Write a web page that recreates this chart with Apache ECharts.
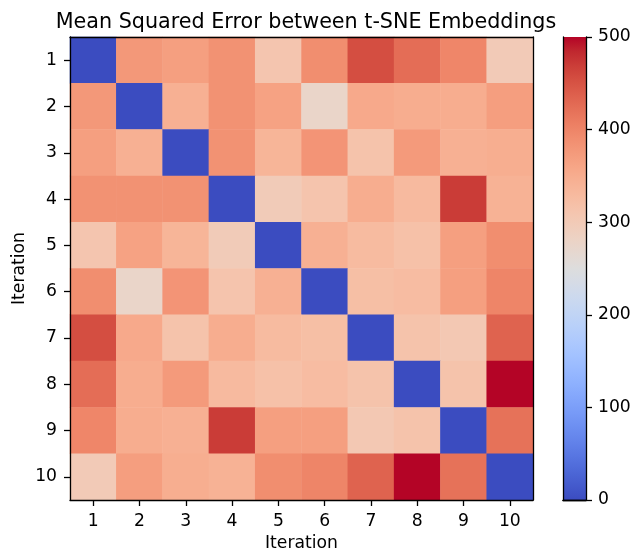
<!DOCTYPE html>
<html>
<head>
<meta charset="utf-8">
<script src="https://cdn.jsdelivr.net/npm/echarts@6/dist/echarts.min.js"></script>
<style>
  html, body { margin: 0; padding: 0; background: #fff; }
  #chart { width: 631px; height: 552px; }
</style>
</head>
<body>
<div id="chart"></div>
<script>
// Iteration labels (rows and columns of the MSE matrix)
const iterations = ['1', '2', '3', '4', '5', '6', '7', '8', '9', '10'];

// Pairwise mean squared error between embeddings, one array per iteration row
const row1  = [0,   378, 368, 385, 310, 390, 455, 425, 398, 300];
const row2  = [378, 0,   345, 385, 365, 276, 355, 350, 350, 370];
const row3  = [368, 345, 0,   385, 338, 382, 315, 375, 345, 348];
const row4  = [385, 385, 385, 0,   298, 312, 350, 330, 470, 342];
const row5  = [310, 365, 338, 298, 0,   345, 328, 318, 368, 390];
const row6  = [390, 276, 382, 312, 345, 0,   322, 326, 368, 400];
const row7  = [455, 355, 315, 350, 328, 322, 0,   315, 305, 435];
const row8  = [425, 350, 375, 330, 318, 326, 315, 0,   315, 500];
const row9  = [398, 350, 345, 470, 368, 368, 305, 315, 0,   420];
const row10 = [300, 370, 348, 342, 390, 400, 435, 500, 420, 0];
const matrix = [row1, row2, row3, row4, row5, row6, row7, row8, row9, row10];

// Colour scale range and colorbar ticks
const vmin = 0;
const vmax = 500;
const colorbarTicks = [0, 100, 200, 300, 400, 500];

// Diverging blue-white-red ramp (coolwarm)
const coolwarm = [
  '#3b4cc0', '#445acc', '#4d68d7', '#5775e1', '#6282ea', '#6c8ef1', '#779af7', '#82a5fb',
  '#8db0fe', '#98b9ff', '#a3c2ff', '#aec9fd', '#b8d0f9', '#c2d5f4', '#ccd9ee', '#d5dbe6',
  '#dddddd', '#e5d8d1', '#ecd3c5', '#f1ccb9', '#f5c4ad', '#f7bba0', '#f7b194', '#f7a687',
  '#f49a7b', '#f18d6f', '#ec7f63', '#e57058', '#de604d', '#d55042', '#cb3e38', '#c0282f',
  '#b40426'
];

const heatData = [];
matrix.forEach((row, r) => {
  row.forEach((v, c) => heatData.push([c, r, v]));
});

const font = 'DejaVu Sans';
const tickFont = 17.2;
const black = '#000';

const gradientStops = coolwarm.map((col, i) => ({ offset: i / (coolwarm.length - 1), color: col }));

const chart = echarts.init(document.getElementById('chart'), null, { renderer: 'canvas' });

const frameAxis = {
  axisLine: { show: true, lineStyle: { color: black, width: 1.3 } },
  axisTick: { show: false },
  axisLabel: { show: false },
  splitLine: { show: false },
  z: 10
};

chart.setOption({
  backgroundColor: '#fff',
  animation: false,
  title: {
    text: 'Mean Squared Error between t-SNE Embeddings',
    left: 301, top: 7, textAlign: 'center',
    textStyle: { fontFamily: font, fontSize: 20.7, fontWeight: 'normal', color: black }
  },
  grid: [
    { left: 70, top: 37, width: 463, height: 463, show: false, outerBoundsMode: 'none', containLabel: false },
    { left: 563, top: 37, width: 23, height: 463, show: false, outerBoundsMode: 'none', containLabel: false }
  ],
  xAxis: [
    {
      type: 'category', gridIndex: 0, data: iterations, position: 'bottom',
      name: 'Iteration', nameLocation: 'middle', nameGap: 35, nameMoveOverlap: false,
      nameTextStyle: { fontFamily: font, fontSize: tickFont, color: black },
      axisLine: { show: true, lineStyle: { color: black, width: 1.3 } },
      axisTick: { show: true, alignWithLabel: true, length: 6, lineStyle: { color: black, width: 1.3 } },
      axisLabel: { fontFamily: font, fontSize: tickFont, color: black, margin: 13 },
      splitLine: { show: false },
      z: 10
    },
    Object.assign({ type: 'category', gridIndex: 0, data: iterations, position: 'top' }, frameAxis),
    {
      type: 'category', gridIndex: 1, data: ['bar'],
      axisLine: { show: true, lineStyle: { color: black, width: 1.3 } },
      axisTick: { show: false }, axisLabel: { show: false }, z: 10
    },
    Object.assign({ type: 'category', gridIndex: 1, data: ['bar'], position: 'top' }, frameAxis)
  ],
  yAxis: [
    {
      type: 'category', gridIndex: 0, data: iterations, inverse: true, position: 'left',
      name: 'Iteration', nameLocation: 'middle', nameGap: 42, nameRotate: 90, nameMoveOverlap: false,
      nameTextStyle: { fontFamily: font, fontSize: tickFont, color: black },
      axisLine: { show: true, lineStyle: { color: black, width: 1.3 } },
      axisTick: { show: true, alignWithLabel: true, length: 6, lineStyle: { color: black, width: 1.3 } },
      axisLabel: { fontFamily: font, fontSize: tickFont, color: black, margin: 13 },
      splitLine: { show: false },
      z: 10
    },
    Object.assign({ type: 'category', gridIndex: 0, data: iterations, inverse: true, position: 'right' }, frameAxis),
    {
      type: 'value', gridIndex: 1, min: vmin, max: vmax, interval: 100, position: 'right',
      axisLine: { show: true, lineStyle: { color: black, width: 1.3 } },
      axisTick: { show: true, length: 6, lineStyle: { color: black, width: 1.3 } },
      axisLabel: {
        fontFamily: font, fontSize: tickFont, color: black, margin: 12,
        customValues: colorbarTicks
      },
      splitLine: { show: false },
      z: 10
    },
    Object.assign({ type: 'value', gridIndex: 1, min: vmin, max: vmax, position: 'left' }, frameAxis)
  ],
  visualMap: {
    show: false, type: 'continuous', min: vmin, max: vmax, dimension: 2,
    seriesIndex: 0, inRange: { color: coolwarm }
  },
  series: [
    {
      type: 'heatmap', xAxisIndex: 0, yAxisIndex: 0, data: heatData,
      itemStyle: { borderWidth: 0 }, emphasis: { disabled: true }
    },
    {
      type: 'bar', xAxisIndex: 2, yAxisIndex: 2, data: [vmax], barWidth: '100%',
      silent: true,
      itemStyle: {
        color: new echarts.graphic.LinearGradient(0, 1, 0, 0, gradientStops)
      }
    }
  ]
});
</script>
</body>
</html>
